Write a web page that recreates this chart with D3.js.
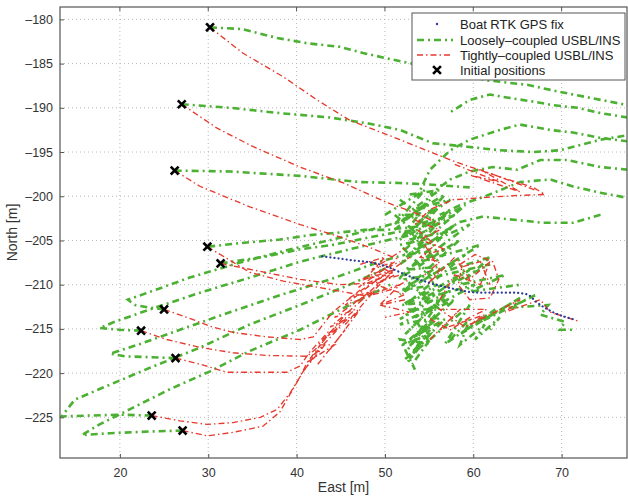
<!DOCTYPE html>
<html>
<head>
<meta charset="utf-8">
<script src="https://cdn.jsdelivr.net/npm/d3@7"></script>
<style>
	body { margin: 0; background: #fff; }
	svg { display: block; font-family: 'Liberation Sans', Arial, sans-serif; }
</style>
</head>
<body>
<div class="chart"></div>
<script>
const width = 628,
	height = 496

const margin = { top: 7, right: 1, bottom: 38, left: 60 }

// ---- data (East [m], North [m]) ----
const xTicks = [20, 30, 40, 50, 60, 70]
const yTicks = [-180, -185, -190, -195, -200, -205, -210, -215, -220, -225]

const boatFix = [
	[42.9, -206.8], [46.0, -207.2], [49.4, -207.7], [53.2, -209.2], [57.0, -210.3],
	[60.8, -210.9], [64.5, -210.9], [66.1, -211.1], [67.2, -212.0], [69.0, -213.1], [71.3, -213.9]
]

const initialPositions = [
	[30.2, -180.9], [27.0, -189.6], [26.2, -197.1], [29.9, -205.7], [31.4, -207.6],
	[25.0, -212.8], [22.4, -215.2], [26.3, -218.3], [23.6, -224.8], [27.1, -226.5]
]

// loosely-coupled USBL/INS tracks
const loose1 = [[30.2, -180.9], [33.9, -181.1], [37.8, -182.1], [41.2, -182.7], [44.9, -183.1], [47.5, -183.8], [50.2, -184.4], [54.0, -185.2], [57.9, -186.1], [61.6, -186.9], [66.1, -187.4], [69.8, -188.2], [74.4, -189.1], [77.5, -189.7]]
const loose1Back = [[77.5, -191.1], [74.4, -190.6], [71.8, -190.0], [69.0, -189.7], [66.8, -189.3], [64.2, -188.9], [61.9, -188.5], [59.6, -189.1], [57.4, -190.5]]
const loose2 = [[27.0, -189.6], [32.5, -190.0], [38.1, -190.6], [43.8, -191.1], [48.3, -191.8], [51.7, -192.5], [55.4, -194.0], [59.3, -194.4], [63.0, -194.8], [66.8, -195.0], [69.8, -194.8], [74.4, -193.6], [77.5, -193.1]]
const loose3 = [[26.2, -197.1], [32.5, -197.2], [40.4, -197.7], [47.2, -198.4], [51.7, -198.5], [55.4, -198.7], [59.6, -199.0]]
const looseA = [[77.5, -193.8], [74.4, -193.4], [71.3, -192.8], [68.7, -192.5], [65.3, -191.9], [63.0, -192.5], [59.6, -193.6], [57.4, -194.8], [55.1, -197.0], [54.0, -199.3]]
const looseB = [[77.5, -197.0], [74.4, -196.7], [70.6, -195.9], [67.6, -195.9], [65.0, -197.0], [62.2, -196.7], [59.6, -197.2], [57.4, -198.1], [55.1, -199.8]]
const looseC = [[77.0, -200.1], [74.4, -199.6], [71.3, -198.9], [68.7, -198.1], [65.3, -198.4], [61.1, -200.1], [58.5, -201.0], [56.2, -202.1]]
const looseD = [[74.4, -202.1], [71.3, -203.0], [67.9, -203.0], [65.0, -202.7], [61.1, -202.3], [58.5, -202.9], [56.2, -204.3]]
const loose4 = [[30.0, -205.7], [33.6, -205.3], [38.1, -204.9], [41.5, -204.4], [44.9, -204.1], [47.7, -203.8], [50.2, -203.8], [54.0, -203.4], [56.2, -202.7]]
const loose5 = [[31.4, -207.6], [36.6, -206.8], [40.4, -206.0], [44.1, -205.5], [48.0, -204.7], [51.7, -204.0], [54.0, -203.8]]
const loose6 = [[25.0, -212.8], [23.4, -212.6], [21.7, -212.3], [20.9, -211.7], [24.0, -210.6], [27.9, -209.2], [33.6, -207.5], [39.3, -206.0], [44.9, -204.7], [50.6, -203.2], [54.0, -202.1]]
const loose7 = [[22.4, -215.2], [20.0, -215.1], [17.7, -214.9], [19.4, -214.2], [23.4, -212.8], [29.1, -210.9], [34.7, -209.2], [40.4, -207.4], [46.0, -206.0], [50.6, -204.9], [53.4, -204.3]]
const loose8 = [[26.3, -218.3], [23.4, -218.2], [20.6, -218.1], [18.9, -217.8], [22.3, -216.7], [26.8, -215.1], [32.5, -213.1], [38.1, -211.2], [43.8, -209.4], [49.4, -207.4], [52.3, -206.6]]
const loose9 = [[23.6, -224.8], [20.0, -224.7], [16.6, -224.8], [13.4, -224.9], [14.9, -223.0], [17.7, -221.8], [23.4, -219.4], [29.1, -217.1], [34.7, -214.5], [40.4, -212.3], [46.0, -210.0], [51.1, -207.7]]
const loose10 = [[27.1, -226.5], [23.4, -226.6], [18.9, -226.8], [15.7, -227.0], [17.7, -225.8], [21.1, -224.1], [25.7, -221.8], [30.2, -219.8], [34.7, -217.5], [40.4, -215.1], [46.0, -212.3], [50.6, -210.0]]
// wandering near the boat track
const looseS1 = [[51.1, -203.8], [55.1, -200.4], [51.7, -204.9], [56.2, -201.0], [52.3, -206.0], [57.4, -201.5], [51.7, -207.7], [57.9, -203.2], [51.5, -209.4], [58.5, -204.9], [51.7, -211.1], [59.1, -206.6], [52.3, -212.3], [59.6, -208.3], [51.7, -213.9], [57.4, -210.6], [52.3, -215.6], [56.2, -211.7], [52.6, -217.3], [55.7, -213.4], [52.8, -218.4], [55.1, -215.1]]
const looseS2 = [[50.0, -202.1], [54.5, -199.3], [51.1, -203.2], [56.8, -199.8], [52.8, -204.3], [59.1, -201.0], [53.4, -206.0], [59.6, -203.2], [54.0, -207.4], [60.8, -205.5], [54.5, -209.4], [61.9, -207.7], [54.0, -211.7], [60.2, -210.0], [53.4, -213.7], [57.9, -211.7], [52.8, -216.2], [56.8, -213.9], [52.3, -218.4], [55.1, -216.2], [53.1, -219.0]]
const looseS3 = [[51.7, -200.4], [54.0, -202.1], [51.1, -202.1], [54.5, -204.9], [51.7, -205.5], [55.1, -208.9], [52.3, -209.4], [56.2, -212.8], [52.8, -212.8], [55.1, -216.7], [51.7, -216.2], [53.4, -219.6]]
const looseS4 = [[55.1, -216.2], [59.6, -212.3], [56.8, -216.7], [62.5, -212.8], [58.5, -215.6], [65.3, -211.5], [60.8, -214.2], [67.0, -211.2], [64.2, -212.6], [68.5, -212.3], [67.6, -213.4], [70.4, -214.2], [69.8, -215.1], [71.2, -215.1]]
const looseS5 = [[57.4, -208.3], [61.9, -206.9], [58.5, -210.0], [63.6, -208.9], [59.6, -210.8], [65.3, -210.0]]
const looseS6 = [[52.8, -199.8], [56.2, -199.3], [53.1, -201.5], [57.4, -200.4], [53.4, -203.2], [57.9, -202.1], [52.8, -204.9], [57.1, -204.0], [52.6, -206.6], [56.8, -206.0], [52.3, -208.3], [55.9, -208.0], [52.0, -210.6], [55.9, -210.0], [51.9, -212.3], [56.8, -211.7], [51.7, -214.5], [56.2, -213.7], [52.0, -216.8], [55.1, -215.6], [52.6, -218.7]]
const looseS7 = [[57.4, -216.2], [59.6, -213.9], [58.5, -216.8], [61.3, -214.5], [60.2, -216.2], [63.0, -213.7], [61.9, -215.1]]

// tightly-coupled USBL/INS tracks
const tight1 = [[30.2, -180.9], [33.9, -183.8], [38.5, -186.5], [42.3, -189.1], [46.0, -191.4], [51.7, -193.6], [57.4, -195.9], [60.0, -196.8], [63.0, -197.8], [66.8, -199.0], [68.1, -199.8], [65.3, -199.9], [61.9, -200.1], [57.7, -200.4], [55.1, -201.5], [53.4, -203.2]]
const tight2 = [[27.0, -189.6], [31.0, -192.3], [35.1, -194.4], [40.4, -196.7], [45.3, -198.5], [50.2, -200.7], [54.0, -202.1], [56.2, -203.2]]
const tight3 = [[26.2, -197.1], [29.1, -198.9], [34.7, -201.2], [40.4, -203.2], [44.9, -204.6], [48.3, -205.8], [51.7, -207.2]]
const tight4 = [[29.9, -205.7], [34.7, -208.6], [38.5, -209.6], [44.1, -210.6], [48.0, -211.3], [50.6, -210.6], [52.8, -209.4]]
const tight5 = [[31.4, -207.6], [35.9, -208.5], [40.4, -209.4], [44.9, -210.0], [48.9, -209.8], [51.7, -208.9]]
const tight6 = [[25.0, -212.8], [27.6, -213.7], [30.5, -214.8], [32.8, -215.4], [36.6, -215.9], [40.4, -216.2], [41.9, -215.9], [44.1, -213.1], [47.2, -210.6]]
const tight7 = [[22.4, -215.2], [25.3, -216.2], [29.1, -217.1], [32.8, -217.7], [36.6, -218.0], [41.2, -218.1], [42.7, -216.8], [45.5, -213.4]]
const tight8 = [[26.3, -218.3], [29.1, -219.0], [32.1, -219.9], [35.1, -219.9], [38.9, -219.9], [40.4, -219.2], [41.5, -217.6], [43.8, -215.1]]
const tight9 = [[23.6, -224.8], [26.8, -225.4], [29.9, -225.8], [32.8, -225.6], [35.9, -225.0], [37.8, -224.1], [39.3, -222.2], [40.4, -220.4], [41.2, -218.8], [42.7, -216.8]]
const tight10 = [[27.1, -226.5], [29.9, -227.1], [32.8, -226.7], [36.2, -226.0], [38.1, -224.4], [39.6, -221.8], [40.7, -219.9], [42.1, -217.9]]
const tightS1 = [[41.3, -218.7], [44.3, -216.8], [42.4, -216.8], [46.0, -213.7], [43.8, -214.8], [47.7, -211.5], [45.5, -212.3], [49.4, -209.2], [47.0, -210.3], [51.1, -207.4], [48.5, -208.3], [52.3, -205.9]]
const tightS2 = [[42.4, -219.0], [45.5, -215.1], [43.8, -217.3], [47.2, -212.8], [45.5, -214.5], [48.9, -210.6], [47.2, -211.7], [50.8, -208.6], [49.2, -209.4], [52.8, -206.9]]
const tightS3 = [[48.5, -207.4], [51.1, -208.9], [48.9, -210.0], [52.3, -211.1], [49.4, -212.3], [52.8, -213.1], [50.0, -213.7]]
const tightS4 = [[54.5, -205.5], [56.2, -208.3], [54.8, -210.0], [57.9, -206.9], [59.6, -209.4], [61.9, -207.4], [60.8, -210.0], [57.9, -208.9], [56.2, -211.7]]
const tightS5 = [[55.1, -216.2], [58.5, -212.8], [56.2, -215.1], [61.3, -213.4], [59.6, -214.5], [65.3, -211.7], [63.6, -213.1], [67.6, -211.7], [68.7, -213.1], [72.1, -214.2]]
const tightS6 = [[53.4, -202.7], [56.2, -203.8], [54.0, -204.9], [56.8, -206.0], [54.5, -206.6]]
const tightS7 = [[57.9, -196.4], [63.0, -198.4], [59.6, -197.6], [65.3, -199.5], [60.8, -197.0], [67.0, -199.3]]
const tightS8 = [[40.9, -219.6], [43.2, -216.8], [41.7, -218.2], [44.9, -214.8], [42.9, -216.2], [46.6, -212.8], [44.3, -213.7], [48.3, -210.8], [46.0, -211.5], [50.0, -208.9], [47.4, -209.4], [51.7, -207.4]]
const tightS9 = [[47.2, -207.7], [50.0, -206.9], [47.7, -209.4], [51.1, -208.3], [48.3, -211.1], [51.7, -210.0], [49.4, -212.3], [52.3, -211.7]]
const tightS10 = [[58.5, -207.7], [60.2, -206.6], [62.2, -207.4], [62.9, -209.4], [61.9, -211.5], [59.6, -211.7], [58.3, -210.0], [58.7, -208.0], [60.8, -207.4], [61.9, -210.0]]
const tightS11 = [[55.1, -213.9], [57.4, -215.1], [59.6, -213.7], [61.5, -212.8], [56.2, -212.8], [59.1, -214.8], [61.3, -213.7]]
const tightS12 = [[53.7, -203.8], [55.7, -205.5], [54.0, -206.9], [56.2, -207.4], [54.5, -208.9]]

const looseTracks = [loose1, loose1Back, loose2, loose3, looseA, looseB, looseC, looseD, loose4, loose5, loose6, loose7, loose8, loose9, loose10, looseS1, looseS2, looseS3, looseS4, looseS5, looseS6, looseS7]
const tightTracks = [tight1, tight2, tight3, tight4, tight5, tight6, tight7, tight8, tight9, tight10, tightS1, tightS2, tightS3, tightS4, tightS5, tightS6, tightS7, tightS8, tightS9, tightS10, tightS11, tightS12]

const legendLabels = ['Boat RTK GPS fix', 'Loosely\u2013coupled USBL/INS', 'Tightly\u2013coupled USBL/INS', 'Initial positions']

const looseColor = '#4cb032',
	tightColor = '#e63a2e',
	boatColor = '#2c3b9a'

// ---- chart ----
const svg = d3.select('.chart').append('svg').attr('width', width).attr('height', height)

const innerW = width - margin.left - margin.right,
	innerH = height - margin.top - margin.bottom

const x = d3.scaleLinear().domain([13.22, 77.4]).range([margin.left, margin.left + innerW])
const y = d3.scaleLinear().domain([-178.6, -229.6]).range([margin.top, margin.top + innerH])

svg.append('defs').append('clipPath').attr('id', 'plot-clip')
	.append('rect')
	.attr('x', margin.left).attr('y', margin.top)
	.attr('width', innerW).attr('height', innerH)

// grid
const grid = svg.append('g').attr('stroke', '#b8b8b8').attr('stroke-dasharray', '1,3').attr('stroke-width', 1)
grid.selectAll('.gx').data(xTicks).enter().append('line')
	.attr('x1', d => x(d)).attr('x2', d => x(d))
	.attr('y1', margin.top).attr('y2', margin.top + innerH)
grid.selectAll('.gy').data(yTicks).enter().append('line')
	.attr('y1', d => y(d)).attr('y2', d => y(d))
	.attr('x1', margin.left).attr('x2', margin.left + innerW)

const line = d3.line().x(d => x(d[0])).y(d => y(d[1]))

const plot = svg.append('g').attr('clip-path', 'url(#plot-clip)')

plot.append('g').selectAll('path').data(looseTracks).enter().append('path')
	.attr('d', line)
	.attr('fill', 'none')
	.attr('stroke', looseColor)
	.attr('stroke-width', 2.6)
	.attr('stroke-dasharray', '7,4,2,4')

plot.append('g').selectAll('path').data(tightTracks).enter().append('path')
	.attr('d', line)
	.attr('fill', 'none')
	.attr('stroke', tightColor)
	.attr('stroke-width', 1.35)
	.attr('stroke-dasharray', '6,3,1.5,3')

const boatLine = d3.line().curve(d3.curveMonotoneX).x(d => x(d[0])).y(d => y(d[1]))
plot.append('path')
	.datum(boatFix)
	.attr('d', boatLine)
	.attr('fill', 'none')
	.attr('stroke', boatColor)
	.attr('stroke-width', 2.2)
	.attr('stroke-linecap', 'round')
	.attr('stroke-dasharray', '0.1,4')

const cross = d3.symbol().type(d3.symbolX).size(42)
plot.append('g').selectAll('path').data(initialPositions).enter().append('path')
	.attr('transform', d => `translate(${x(d[0])},${y(d[1])})`)
	.attr('d', cross)
	.attr('fill', 'none')
	.attr('stroke', '#000')
	.attr('stroke-width', 2.6)

// axes box
svg.append('rect')
	.attr('x', margin.left).attr('y', margin.top)
	.attr('width', innerW).attr('height', innerH)
	.attr('fill', 'none').attr('stroke', '#555').attr('stroke-width', 1.2)

const xAxis = svg.append('g')
	.attr('transform', `translate(0,${margin.top + innerH})`)
	.call(d3.axisBottom(x).tickValues(xTicks).tickSize(-4).tickPadding(10).tickFormat(d3.format('d')))
const yAxis = svg.append('g')
	.attr('transform', `translate(${margin.left},0)`)
	.call(d3.axisLeft(y).tickValues(yTicks).tickSize(-4).tickPadding(7).tickFormat(d => d3.format('d')(d).replace('\u2212', '\u2013')))
;[xAxis, yAxis].forEach(a => {
	a.select('.domain').remove()
	a.selectAll('.tick line').attr('stroke', '#555')
	a.selectAll('.tick text').attr('fill', '#333').style('font-size', '12.5px')
})
// top ticks
svg.append('g').selectAll('line').data(xTicks).enter().append('line')
	.attr('x1', d => x(d)).attr('x2', d => x(d))
	.attr('y1', margin.top).attr('y2', margin.top + 4)
	.attr('stroke', '#555')

svg.append('text')
	.attr('x', margin.left + innerW / 2)
	.attr('y', 492)
	.attr('text-anchor', 'middle')
	.style('font-size', '14px')
	.style('fill', '#333')
	.text('East [m]')

svg.append('text')
	.attr('transform', `translate(17,${margin.top + innerH / 2}) rotate(-90)`)
	.attr('text-anchor', 'middle')
	.style('font-size', '14px')
	.style('fill', '#333')
	.text('North [m]')

// legend
const legend = svg.append('g').attr('transform', 'translate(412,13)')
legend.append('rect')
	.attr('width', 213).attr('height', 67)
	.attr('fill', '#fff').attr('stroke', '#555').attr('stroke-width', 1)

const rowY = [11, 27, 42, 57]
legend.selectAll('text').data(legendLabels).enter().append('text')
	.attr('x', 48)
	.attr('y', (d, i) => rowY[i] + 4.5)
	.style('font-size', '13px')
	.style('fill', '#222')
	.text(d => d)

legend.append('circle').attr('cx', 25).attr('cy', rowY[0]).attr('r', 1.2).attr('fill', boatColor)
legend.append('line').attr('x1', 5).attr('x2', 41).attr('y1', rowY[1]).attr('y2', rowY[1])
	.attr('stroke', looseColor).attr('stroke-width', 2.6).attr('stroke-dasharray', '7,4,2,4')
legend.append('line').attr('x1', 5).attr('x2', 41).attr('y1', rowY[2]).attr('y2', rowY[2])
	.attr('stroke', tightColor).attr('stroke-width', 1.35).attr('stroke-dasharray', '6,3,1.5,3')
legend.append('path').attr('transform', `translate(25,${rowY[3]})`).attr('d', cross)
	.attr('fill', 'none').attr('stroke', '#000').attr('stroke-width', 2.6)
</script>
</body>
</html>
